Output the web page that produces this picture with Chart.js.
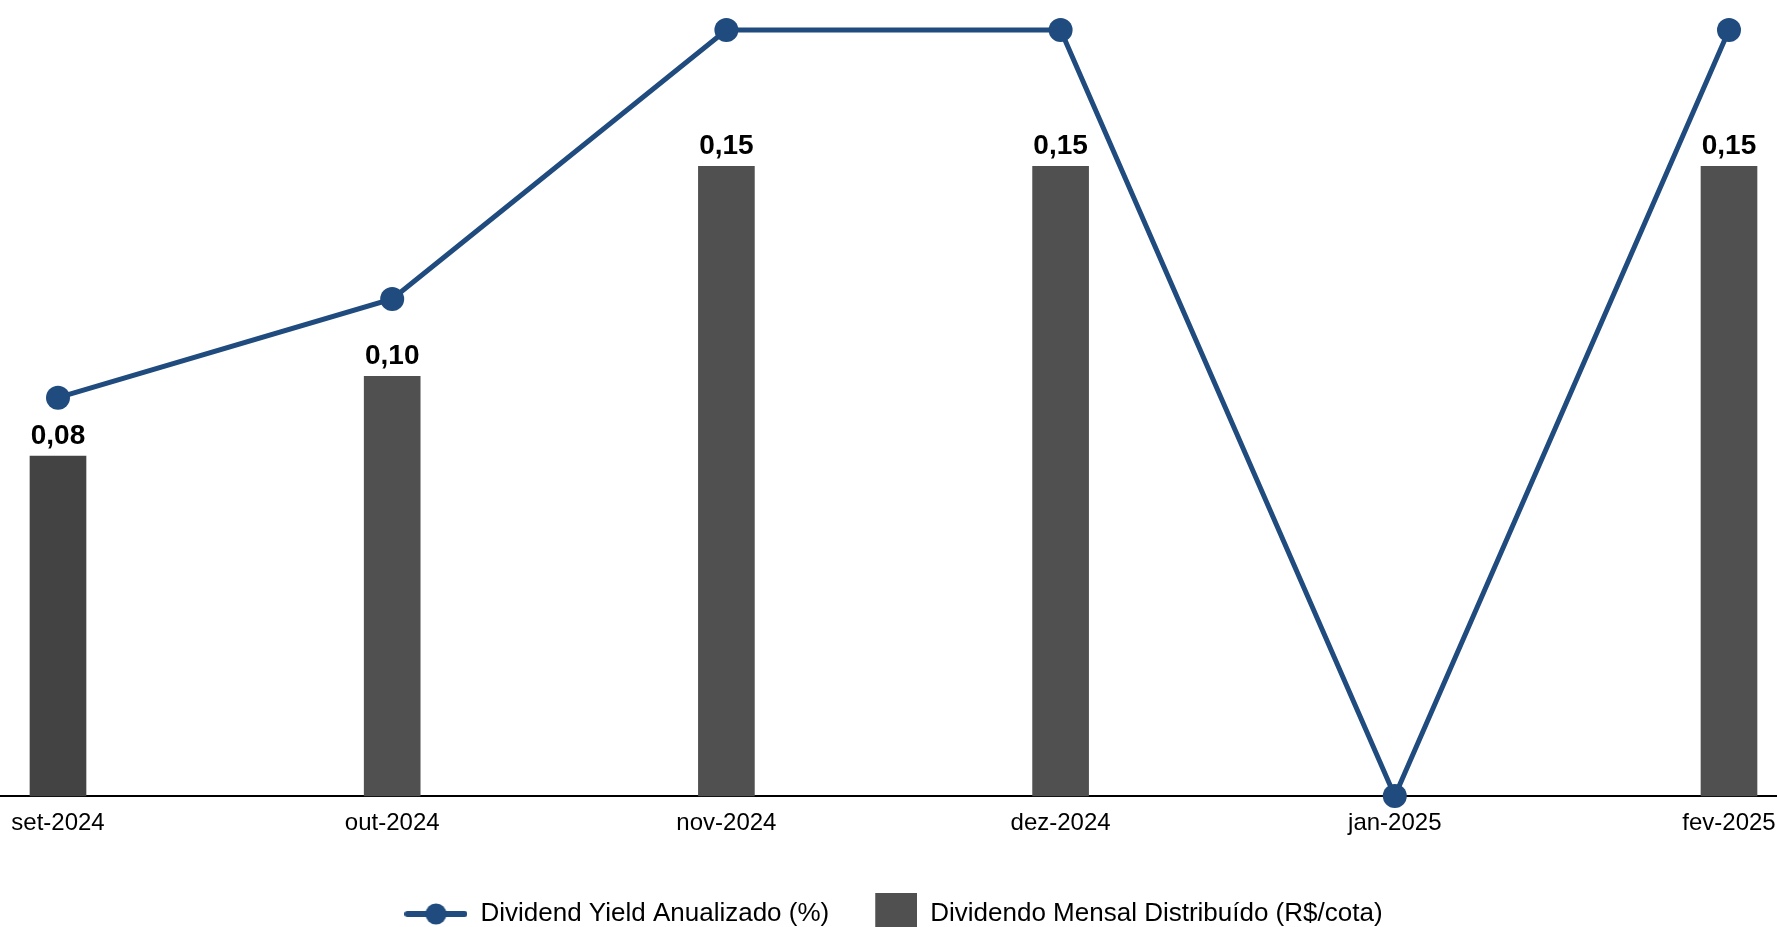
<!DOCTYPE html>
<html>
<head>
<meta charset="utf-8">
<script src="https://cdn.jsdelivr.net/npm/chart.js@4.4.1/dist/chart.umd.min.js"></script>
<style>
  html, body { margin: 0; padding: 0; background: #fff; overflow: hidden; }
  #wrap { width: 1777px; height: 960px; }
</style>
</head>
<body>
<div id="wrap"><canvas id="myCanvas" width="1777" height="960"></canvas></div>
<script>
// data
var months = ["set-2024", "out-2024", "nov-2024", "dez-2024", "jan-2025", "fev-2025"];
var dividendo = [0.081, 0.10, 0.15, 0.15, null, 0.15];     // R$/cota
var dyAnual = [11.7, 14.6, 22.5, 22.5, 0, 22.5];            // % (hidden axis)
var barColors = ["#434343", "#505050", "#505050", "#505050", "#505050", "#505050"];

var blue = "#1f4b7e";
var fontFam = "'Liberation Sans', Arial, sans-serif";

// legend markers
function lineMarker() {
  var c = document.createElement("canvas");
  c.width = 63; c.height = 24;
  var g = c.getContext("2d");
  g.strokeStyle = blue;
  g.lineWidth = 6;
  g.lineCap = "round";
  g.beginPath();
  g.moveTo(3, 12);
  g.lineTo(60, 12);
  g.stroke();
  g.fillStyle = blue;
  g.beginPath();
  g.arc(31.5, 12, 10.5, 0, Math.PI * 2);
  g.fill();
  return c;
}
function squareMarker() {
  var c = document.createElement("canvas");
  c.width = 63; c.height = 42;
  var g = c.getContext("2d");
  g.fillStyle = "#505050";
  g.fillRect(21, 0, 42, 42);
  return c;
}
var markers = [lineMarker(), squareMarker()];

// baseline across the whole width
var baseLine = {
  id: "baseLine",
  beforeDatasetsDraw: function (chart) {
    var ctx = chart.ctx;
    var y = chart.scales.y.getPixelForValue(0);
    ctx.save();
    ctx.strokeStyle = "#000";
    ctx.lineWidth = 2;
    ctx.beginPath();
    ctx.moveTo(0, y);
    ctx.lineTo(chart.width, y);
    ctx.stroke();
    ctx.restore();
  }
};

// value labels on top of bars
var barLabels = {
  id: "barLabels",
  afterDatasetsDraw: function (chart) {
    var ctx = chart.ctx;
    var meta = chart.getDatasetMeta(1);
    ctx.save();
    ctx.fillStyle = "#000";
    ctx.font = "bold 28px " + fontFam;
    ctx.textAlign = "center";
    ctx.textBaseline = "alphabetic";
    meta.data.forEach(function (bar, i) {
      var v = dividendo[i];
      if (v === null) return;
      ctx.fillText(v.toFixed(2).replace(".", ","), bar.x, bar.y - 12);
    });
    ctx.restore();
  }
};

var chart = new Chart(document.getElementById("myCanvas"), {
  type: "bar",
  data: {
    labels: months,
    datasets: [
      {
        type: "line",
        label: "Dividend Yield Anualizado (%)",
        data: dyAnual,
        yAxisID: "y2",
        borderColor: blue,
        backgroundColor: blue,
        borderWidth: 5,
        pointRadius: 12,
        pointBorderWidth: 0,
        pointBackgroundColor: blue,
        tension: 0,
        clip: false,
        order: 0
      },
      {
        type: "bar",
        label: "Dividendo Mensal Distribuído (R$/cota)",
        data: dividendo,
        yAxisID: "y",
        backgroundColor: barColors,
        barThickness: 56,
        clip: false,
        order: 1
      }
    ]
  },
  options: {
    responsive: false,
    devicePixelRatio: 1,
    animation: false,
    layout: { padding: { left: 58, right: 48, top: 30, bottom: 23 } },
    scales: {
      x: {
        offset: false,
        grid: { display: false, drawTicks: false },
        border: { display: false },
        ticks: {
          color: "#000",
          font: { family: fontFam, size: 24 },
          padding: 13,
          maxRotation: 0,
          autoSkip: false
        },
        afterFit: function (scale) {
          scale.height = 80;
          scale.paddingLeft = 0;
          scale.paddingRight = 0;
        }
      },
      y: { display: false, min: 0, max: 0.1825 },
      y2: { display: false, position: "right", min: 0, max: 22.5 }
    },
    plugins: {
      tooltip: { enabled: false },
      legend: {
        position: "bottom",
        labels: {
          color: "#000",
          font: { family: fontFam, size: 26 },
          usePointStyle: true,
          pointStyleWidth: 63,
          padding: 25,
          generateLabels: function (ch) {
            var items = Chart.defaults.plugins.legend.labels.generateLabels(ch);
            items.forEach(function (it) { it.pointStyle = markers[it.datasetIndex]; });
            return items;
          }
        }
      }
    }
  },
  plugins: [baseLine, barLabels]
});
</script>
</body>
</html>
